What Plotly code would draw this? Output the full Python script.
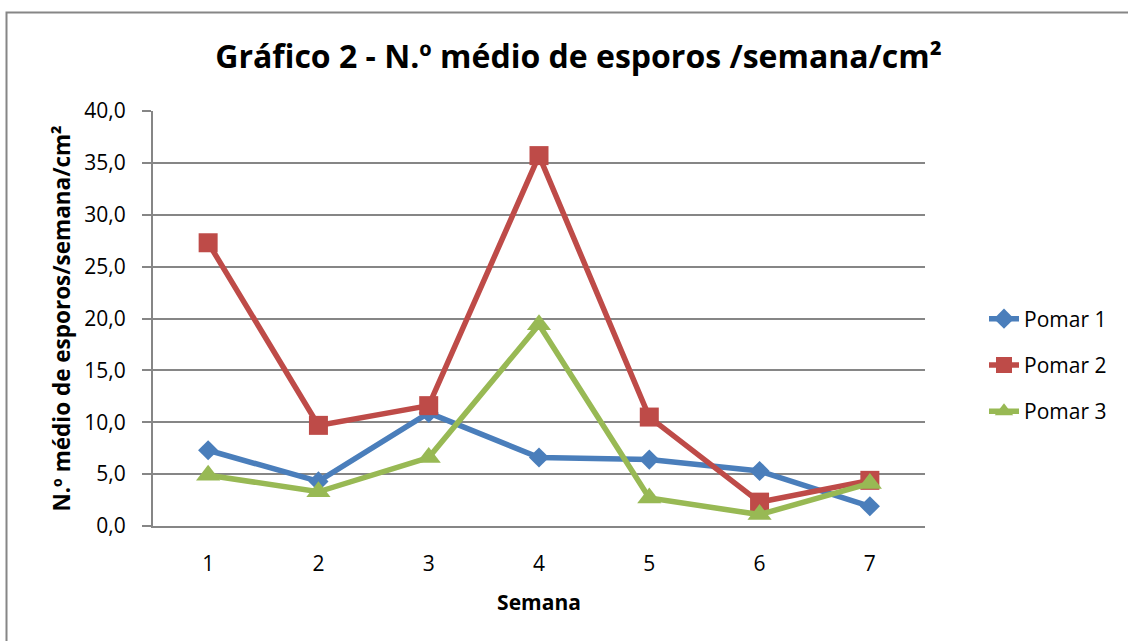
import plotly.graph_objects as go

semanas = [1, 2, 3, 4, 5, 6, 7]
tick_labels = ["1", "2", "3", "4", "5", "6", "7"]
pomar1 = [7.3, 4.3, 10.9, 6.6, 6.4, 5.3, 1.9]
pomar2 = [27.3, 9.7, 11.6, 35.7, 10.5, 2.3, 4.4]
pomar3 = [4.9, 3.3, 6.6, 19.4, 2.7, 1.1, 4.1]
series_names = ["Pomar 1", "Pomar 2", "Pomar 3"]
colors = ["#4A7EBB", "#BE4B48", "#98B954"]
symbols = ["diamond", "square", "triangle-up"]
marker_sizes = [15.5, 19, 21]

FONT = "Open Sans"
fig = go.Figure()
for name, vals, c, s, ms in zip(series_names, [pomar1, pomar2, pomar3], colors, symbols, marker_sizes):
    fig.add_trace(go.Scatter(
        x=semanas, y=vals, name=name, mode="lines+markers",
        line=dict(color=c, width=5.5),
        marker=dict(symbol=s, size=ms, color=c),
        legendgroup=name,
    ))

W, H = 1128, 641
l, r, t, b = 153, W - 925, 111, H - 526
pw, ph = W - l - r, H - t - b

def px_x(p):
    return (p - l) / pw

def px_y(p):
    return (H - b - p) / ph

fig.update_layout(
    width=W, height=H,
    margin=dict(l=l, r=r, t=t, b=b),
    paper_bgcolor="white", plot_bgcolor="white",
    separators=",.",
    font=dict(family=FONT, color="black", size=22),
    title=dict(text="<b>Gráfico 2 - N.º médio de esporos /semana/cm²</b>",
               x=578.5 / W, xanchor="center", y=1 - 57 / H, yanchor="middle",
               font=dict(family=FONT, size=32, color="black")),
    xaxis=dict(
        range=[0.5, 7.5], tickmode="array", tickvals=semanas, ticktext=tick_labels,
        showgrid=False, showline=True, linecolor="#868686", linewidth=2,
        ticks="", zeroline=False, ticklabelstandoff=18,
        tickfont=dict(family=FONT, size=21),
        title=dict(text="<b>Semana</b>", font=dict(family=FONT, size=21), standoff=19),
    ),
    yaxis=dict(
        range=[0, 40], dtick=5, tickformat=".1f",
        showgrid=True, gridcolor="#868686", gridwidth=1.5,
        showline=True, linecolor="#868686", linewidth=2,
        ticks="outside", ticklen=9, tickcolor="#868686", tickwidth=1.5,
        zeroline=False, ticklabelstandoff=12,
        tickfont=dict(family=FONT, size=21),
        title=dict(text="<b>N.º médio de esporos/semana/cm²</b>", font=dict(family=FONT, size=22.5), standoff=7),
    ),
    legend=dict(
        x=px_x(984), xanchor="left", y=px_y(365), yanchor="middle",
        font=dict(family=FONT, size=21), tracegroupgap=16,
        bgcolor="rgba(0,0,0,0)",
    ),
    shapes=[dict(type="rect", xref="paper", yref="paper",
                 x0=px_x(6.5), x1=px_x(1140), y0=px_y(660), y1=px_y(12.5),
                 line=dict(color="#868686", width=2), fillcolor="rgba(0,0,0,0)",
                 layer="below")],
)

fig.write_html("out.html", config={"displayModeBar": False},
               post_script="document.body.style.margin='0';document.body.style.overflow='hidden';")
